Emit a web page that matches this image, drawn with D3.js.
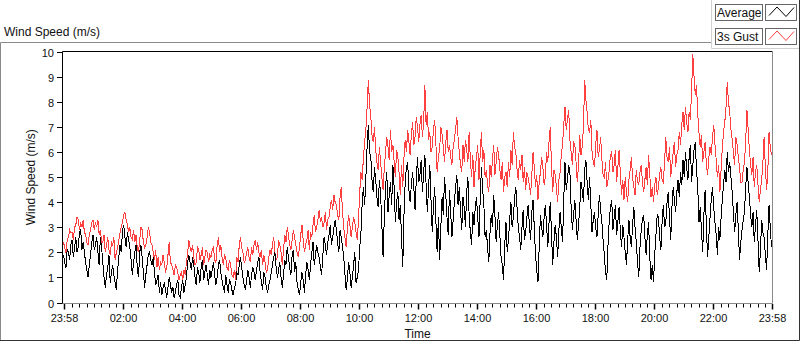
<!DOCTYPE html>
<html>
<head>
<meta charset="utf-8">
<script src="https://cdn.jsdelivr.net/npm/d3@7"></script>
<style>
    body { margin: 0; background: #fff; }
    svg { display: block; font-family: 'Liberation Sans', Arial, sans-serif; }
    .tick-label { font-size: 11px; fill: #111; }
    .title { font-size: 12px; fill: #111; }
</style>
</head>
<body>
<div id="vis"></div>
<script>
'use strict';

//one sample every 2.5 minutes (150 s), first one at 23:58
var startTime = new Date(2020, 0, 1, 23, 58);
var stepSeconds = 150;

//one row per hour (24 samples), the last row ends with the 23:58 sample
var avgSpeed = [
    1.9,1.6, 1.4,2.1, 2.0,1.7, 2.3,2.5, 1.8,2.2, 2.6,2.0, 2.2,2.8, 2.9,2.1, 2.4,2.0, 1.6,1.3, 1.0,1.5, 1.9,2.4,
    2.7,2.1, 2.3,2.6, 2.0,1.5, 2.6,2.2, 1.6,1.0, 0.6,1.1, 1.4,1.9, 0.8,1.2, 1.5,1.1, 0.8,0.5, 1.3,1.8, 2.3,2.0,
    2.9,3.1, 2.6,2.2, 2.8,2.5, 2.2,1.7, 1.1,1.6, 2.0,2.3, 1.4,1.0, 2.0,2.3, 1.8,1.2, 0.6,1.1, 1.5,1.9, 2.0,1.7,
    1.5,1.8, 1.2,0.7, 0.9,1.1, 0.4,0.8, 0.3,0.6, 0.8,0.5, 0.2,0.6, 1.0,0.7, 0.4,0.6, 0.2,0.4, 0.7,0.9, 0.3,0.2,
    0.6,0.9, 0.4,0.7, 1.0,1.6, 1.9,1.6, 1.3,1.8, 1.5,1.0, 0.7,1.4, 1.2,0.8, 1.4,1.7, 0.9,1.2, 1.5,1.1, 0.7,1.3,
    1.0,1.3, 1.6,1.1, 0.7,1.0, 1.5,1.7, 1.2,0.9, 0.6,0.4, 1.1,0.7, 0.4,0.9, 0.8,0.5, 0.3,0.6, 0.7,1.2, 1.1,1.5,
    1.8,1.4, 1.0,0.7, 0.5,0.9, 1.3,1.0, 0.6,1.1, 1.4,1.2, 0.9,1.3, 1.6,1.8, 1.2,0.8, 0.5,1.2, 1.0,0.6, 0.4,0.7,
    0.9,1.2, 1.5,1.8, 2.0,1.4, 1.0,1.3, 1.6,1.0, 0.6,1.1, 1.7,1.5, 2.2,1.8, 1.4,1.1, 1.9,2.1, 1.2,1.6, 0.8,0.5,
    0.3,0.8, 1.2,0.9, 0.4,1.1, 1.6,1.3, 0.9,1.5, 2.0,2.4, 1.5,1.9, 2.3,2.0, 1.8,1.4, 1.1,1.9, 2.6,2.3, 1.9,2.4,
    2.7,3.1, 2.3,2.6, 3.0,3.3, 2.9,2.4, 2.0,2.9, 2.6,2.2, 1.8,1.1, 0.5,1.0, 1.6,1.2, 0.6,1.0, 1.5,2.0, 0.8,1.0,
    1.3,2.2, 2.8,4.0, 4.6,3.9, 5.0,6.2, 7.1,6.0, 5.8,4.9, 4.4,5.4, 4.9,4.2, 3.8,4.9, 4.3,3.1, 1.8,3.4, 4.6,5.2,
    3.6,4.3, 4.8,3.9, 5.5,4.6, 3.2,4.0, 4.4,3.3, 3.9,2.6, 1.4,3.5, 4.8,5.4, 5.6,4.5, 4.0,4.7, 5.2,4.6, 3.7,4.9,
    5.8,4.8, 5.1,5.7, 4.4,5.2, 5.9,4.7, 3.6,4.6, 5.5,4.1, 2.8,3.9, 4.6,3.2, 2.0,3.4, 1.7,3.0, 4.2,3.5, 5.0,4.3,
    3.4,2.7, 4.5,3.6, 2.6,3.3, 4.0,4.6, 5.1,3.9, 4.6,3.7, 2.9,4.2, 3.8,3.0, 4.4,5.0, 3.5,2.8, 2.3,3.6, 3.1,3.8,
    4.2,3.4, 2.6,4.1, 5.4,4.5, 3.9,2.6, 2.9,2.2, 1.6,2.8, 3.5,3.0, 4.3,3.5, 2.4,3.1, 3.6,2.7, 1.8,1.5, 0.9,2.3,
    3.2,2.0, 2.5,3.3, 4.0,3.0, 3.4,4.2, 4.6,3.8, 3.0,2.6, 2.1,3.0, 3.7,2.5, 2.8,3.4, 3.9,3.1, 2.5,3.6, 4.1,3.0,
    1.9,1.3, 0.8,2.2, 3.5,3.0, 2.6,3.4, 3.9,3.1, 2.2,3.2, 4.0,2.8, 1.5,2.4, 3.1,2.6, 1.8,2.9, 3.6,3.0, 2.4,4.1,
    5.6,4.5, 4.9,5.5, 5.2,3.8, 2.9,3.5, 4.1,3.3, 2.5,3.1, 3.8,4.8, 4.5,4.0, 5.3,5.7, 4.8,4.1, 5.0,3.9, 2.8,3.3,
    3.6,3.0, 2.6,3.5, 4.3,3.7, 3.2,2.5, 1.9,1.2, 0.9,2.3, 3.3,3.8, 4.1,2.9, 3.4,3.9, 2.7,3.2, 3.8,2.9, 2.2,3.1,
    2.6,2.0, 1.5,2.5, 3.3,2.6, 2.2,3.1, 3.8,3.0, 2.4,1.6, 1.0,2.2, 2.9,3.3, 3.5,2.6, 1.9,2.7, 3.2,1.8, 0.9,1.5,
    0.8,1.9, 2.7,3.5, 3.4,2.6, 2.1,3.2, 3.9,3.0, 3.2,4.0, 4.4,3.4, 2.5,3.8, 4.6,4.1, 3.6,4.4, 4.9,4.2, 5.2,4.7,
    5.7,5.0, 6.0,5.4, 4.9,5.8, 6.3,4.8, 5.5,6.1, 6.4,5.3, 4.6,3.2, 3.8,2.9, 2.0,3.5, 4.5,3.1, 1.8,2.6, 3.4,4.1,
    4.6,3.8, 3.2,2.7, 1.9,3.0, 2.5,3.4, 4.1,4.7, 5.3,4.8, 6.0,5.2, 5.6,5.0, 4.4,3.6, 2.8,3.5, 4.0,2.9, 1.7,2.4,
    2.9,3.3, 3.6,4.6, 5.4,4.8, 4.2,3.5, 3.0,3.6, 2.4,3.1, 3.7,2.5, 1.2,2.1, 3.3,2.8, 2.6,1.9, 1.3,2.7, 3.9,3.0, 2.2
];

var gustSpeed = [
    2.4,2.2, 2.0,2.5, 2.6,2.9, 2.8,2.8, 2.5,3.0, 3.1,3.4, 3.3,2.9, 3.2,3.0, 3.3,2.8, 2.7,2.4, 2.3,2.7, 2.9,3.2,
    3.3,2.9, 3.2,3.0, 3.3,2.7, 2.9,2.4, 2.4,2.7, 2.0,2.3, 2.6,2.1, 1.9,2.4, 2.3,2.6, 1.7,2.0, 2.2,2.5, 2.8,3.0,
    3.2,3.5, 3.6,3.3, 3.1,2.8, 3.0,2.6, 2.5,2.9, 2.4,2.7, 2.2,2.0, 2.5,3.0, 2.9,2.4, 2.2,2.3, 2.6,3.0, 2.8,2.4,
    2.3,2.0, 1.7,2.1, 1.4,1.8, 1.3,1.6, 1.5,1.9, 1.6,1.2, 1.4,1.9, 2.4,1.6, 1.5,1.3, 1.1,1.5, 1.4,1.2, 0.9,1.1,
    1.2,0.9, 1.3,1.1, 1.6,2.0, 2.5,2.2, 2.0,2.3, 1.8,1.5, 1.6,2.2, 2.1,1.7, 1.9,2.2, 1.5,1.8, 2.1,2.0, 1.6,1.9,
    1.8,2.1, 2.2,1.7, 1.6,2.3, 2.6,2.0, 2.3,1.8, 1.5,1.9, 1.8,1.4, 1.3,1.7, 1.5,1.1, 1.0,1.3, 0.9,1.8, 1.6,2.3,
    2.6,2.2, 2.0,1.6, 1.7,2.0, 2.2,1.8, 1.6,2.2, 1.9,2.3, 2.5,2.1, 2.4,2.0, 1.8,2.1, 1.5,1.9, 1.6,1.2, 1.3,1.8,
    2.1,1.9, 2.3,2.6, 2.0,1.7, 1.8,2.5, 2.3,2.0, 1.5,2.1, 2.7,2.4, 3.0,2.7, 2.3,2.1, 2.5,2.9, 2.6,2.3, 2.0,1.8,
    2.2,2.7, 3.1,2.5, 2.0,2.3, 2.5,2.9, 2.1,2.8, 2.6,3.1, 3.5,2.8, 3.0,3.3, 3.7,3.2, 3.4,3.0, 3.2,3.6, 2.9,3.3,
    3.4,3.8, 4.1,3.7, 4.3,4.0, 3.9,3.5, 3.3,4.2, 4.6,3.6, 3.0,2.6, 2.2,3.0, 3.5,3.1, 2.6,3.0, 3.4,3.2, 2.8,2.5,
    3.3,4.4, 5.2,4.9, 5.8,6.4, 6.9,7.8, 8.9,7.9, 7.4,6.7, 6.4,7.0, 6.1,5.6, 5.3,6.2, 5.6,5.0, 4.5,5.4, 6.0,6.6,
    6.2,5.7, 6.9,6.0, 6.3,5.6, 5.0,6.1, 5.8,5.2, 4.3,5.5, 4.6,5.8, 6.5,6.0, 6.9,6.4, 5.9,6.7, 7.2,6.3, 6.6,7.4,
    7.0,6.4, 7.1,7.5, 6.6,7.2, 8.7,7.1, 7.6,6.5, 6.8,6.0, 6.2,6.9, 7.3,6.3, 5.2,5.8, 6.1,7.0, 6.7,6.2, 5.6,6.4,
    6.9,6.0, 6.3,5.8, 5.5,6.2, 6.5,6.9, 7.4,6.6, 6.0,5.5, 5.2,6.3, 5.6,6.5, 6.1,5.6, 6.8,5.7, 5.0,5.9, 4.6,5.4,
    5.8,6.3, 4.9,5.9, 6.8,5.6, 6.1,5.0, 5.3,4.7, 4.4,5.5, 5.0,5.7, 6.3,5.1, 5.6,6.2, 5.9,5.3, 4.9,5.6, 4.4,5.0,
    5.2,4.6, 5.6,5.0, 6.1,5.5, 6.8,6.2, 6.0,5.3, 4.9,5.7, 5.3,5.9, 4.8,5.4, 4.5,5.2, 5.0,4.7, 4.3,5.1, 6.0,5.4,
    4.6,5.1, 4.1,4.8, 5.2,5.8, 5.4,4.7, 5.0,6.0, 5.6,6.4, 7.0,5.5, 4.4,5.3, 5.1,4.6, 4.0,4.9, 5.2,5.9, 6.3,7.1,
    7.8,6.9, 7.3,7.7, 6.5,6.0, 5.5,6.4, 6.3,5.6, 4.8,5.5, 6.7,5.9, 6.2,7.0, 8.9,8.1, 7.6,6.9, 6.8,7.3, 6.0,5.6,
    5.4,6.3, 6.9,5.8, 6.1,6.6, 5.7,5.1, 5.0,5.6, 4.6,4.9, 5.3,5.9, 6.0,5.2, 5.5,6.1, 4.8,5.4, 6.1,5.2, 4.3,4.9,
    4.1,5.0, 4.4,4.0, 4.9,5.3, 5.8,5.0, 4.6,4.3, 5.3,4.8, 4.7,5.2, 5.5,4.8, 4.4,4.9, 5.4,4.7, 5.9,5.1, 4.2,4.6,
    4.0,4.7, 5.0,4.3, 4.6,5.1, 5.4,4.9, 4.8,5.6, 6.6,5.8, 5.6,6.2, 5.0,5.5, 6.0,6.4, 5.4,5.9, 6.1,6.8, 6.3,7.1,
    7.6,6.9, 7.8,7.2, 6.8,7.6, 7.3,8.5, 9.9,9.0, 8.3,8.7, 7.5,6.8, 6.2,6.7, 5.6,6.0, 6.4,5.5, 5.1,5.8, 6.2,5.9,
    6.6,7.1, 6.3,5.7, 5.0,5.5, 4.4,5.3, 6.2,6.8, 7.2,7.8, 8.8,8.0, 7.6,6.9, 6.5,6.0, 5.5,6.6, 6.3,5.8, 5.4,4.8,
    4.8,5.3, 5.6,6.4, 7.7,6.9, 6.1,5.5, 5.1,5.8, 4.6,5.2, 5.5,4.7, 4.0,4.5, 4.9,5.6, 6.6,5.4, 4.5,5.2, 6.8,6.2, 5.9
];

var yTicks = [0, 1, 2, 3, 4, 5, 6, 7, 8, 9, 10];
var seriesNames = ['Average', '3s Gust'];

var W = 800, H = 342;
//plot frame
var plot = { left: 62.5, top: 51.5, right: 772.5, bottom: 303.5 };

var endTime = d3.timeMinute.offset(startTime, 24 * 60);

var x = d3.scaleTime()
    .domain([startTime, endTime])
    .range([63.5, 771.5]);
var y = d3.scaleLinear()
    .domain([0, 10])
    .range([302.5, 52]);

function toPoints(values) {
    return values.map(function (v, i) {
        return { t: d3.timeSecond.offset(startTime, i * stepSeconds), v: v };
    });
}

var svg = d3.select('#vis').append('svg')
    .attr('width', W)
    .attr('height', H);

//outer panel frame
svg.append('path')
    .attr('d', 'M0.5,341 V42.5 H711.5')
    .attr('fill', 'none')
    .attr('stroke', '#8a8a8a');
svg.append('path')
    .attr('d', 'M0,340.5 H799.5 V0')
    .attr('fill', 'none')
    .attr('stroke', '#333');

//legend panel edge
svg.append('path')
    .attr('d', 'M711.5,0 V48.5 H799')
    .attr('fill', 'none')
    .attr('stroke', '#d0d0d0');

svg.append('text')
    .attr('class', 'title')
    .attr('x', 4)
    .attr('y', 36)
    .text('Wind Speed (m/s)');

//plot area borders: dark top/left, grey right/bottom
svg.append('path')
    .attr('d', 'M' + plot.left + ',' + plot.bottom + ' V' + plot.top + ' H' + plot.right)
    .attr('fill', 'none')
    .attr('stroke', '#000');
svg.append('path')
    .attr('d', 'M' + plot.right + ',' + plot.top + ' V' + plot.bottom + ' H' + plot.left)
    .attr('fill', 'none')
    .attr('stroke', '#8a8a8a');

//y axis ticks and labels
var yAxis = svg.append('g');
yTicks.forEach(function (t) {
    var yy = Math.round(y(t)) + 0.5;
    yAxis.append('line')
        .attr('x1', 57).attr('x2', plot.left)
        .attr('y1', yy).attr('y2', yy)
        .attr('stroke', '#000');
    yAxis.append('text')
        .attr('class', 'tick-label')
        .attr('x', 54)
        .attr('y', yy + 4)
        .attr('text-anchor', 'end')
        .text(t);
});

//x axis: minor ticks every 15 minutes, labels every 2 hours plus both ends
var minorTicks = d3.timeMinute.every(15).range(startTime, endTime);
var majorTicks = [startTime].concat(
    d3.timeHour.every(2).range(startTime, endTime).filter(function (t) {
        return t - startTime > 30 * 60000;
    }),
    [endTime]);
var fmt = d3.timeFormat('%H:%M');

var xAxis = svg.append('g');
minorTicks.forEach(function (t) {
    var xx = Math.round(x(t)) + 0.5;
    xAxis.append('line')
        .attr('x1', xx).attr('x2', xx)
        .attr('y1', 304).attr('y2', 307.5)
        .attr('stroke', '#000');
});
majorTicks.forEach(function (t) {
    var xx = Math.round(x(t)) + 0.5;
    xAxis.append('line')
        .attr('x1', xx).attr('x2', xx)
        .attr('y1', 304).attr('y2', 309.5)
        .attr('stroke', '#000')
        .attr('stroke-width', 1.5);
    xAxis.append('text')
        .attr('class', 'tick-label')
        .attr('x', xx)
        .attr('y', 322)
        .attr('text-anchor', 'middle')
        .text(fmt(t));
});

svg.append('text')
    .attr('class', 'title')
    .attr('x', (x.range()[0] + x.range()[1]) / 2)
    .attr('y', 338)
    .attr('text-anchor', 'middle')
    .text('Time');

svg.append('text')
    .attr('class', 'title')
    .attr('transform', 'translate(35,' + ((y(0) + y(10)) / 2) + ') rotate(-90)')
    .attr('text-anchor', 'middle')
    .text('Wind Speed (m/s)');

//series, gust below average, drawn crisp like the original
var line = d3.line()
    .x(function (d) { return x(d.t); })
    .y(function (d) { return y(d.v); });

svg.append('path')
    .datum(toPoints(gustSpeed))
    .attr('d', line)
    .attr('fill', 'none')
    .attr('stroke', '#ff4040')
    .attr('stroke-width', 1)
    .attr('shape-rendering', 'crispEdges');

svg.append('path')
    .datum(toPoints(avgSpeed))
    .attr('d', line)
    .attr('fill', 'none')
    .attr('stroke', '#000')
    .attr('stroke-width', 1)
    .attr('shape-rendering', 'crispEdges');

//legend
var legendColors = ['#000', '#ff4040'];
var icon = d3.line();
seriesNames.forEach(function (name, i) {
    var top = 4.5 + i * 24;
    var g = svg.append('g');
    g.append('rect')
        .attr('x', 715.5).attr('y', top)
        .attr('width', 47).attr('height', 16)
        .attr('fill', '#fff')
        .attr('stroke', '#666');
    g.append('text')
        .attr('class', 'title')
        .attr('x', 717)
        .attr('y', top + 12.5)
        .text(name);
    g.append('rect')
        .attr('x', 765.5).attr('y', top)
        .attr('width', 31).attr('height', 16)
        .attr('fill', '#fff')
        .attr('stroke', '#666');
    g.append('path')
        .attr('d', icon([[769, top + 11], [777, top + 2.5], [786, top + 12], [794, top + 3]]))
        .attr('fill', 'none')
        .attr('stroke', legendColors[i]);
});
</script>
</body>
</html>
